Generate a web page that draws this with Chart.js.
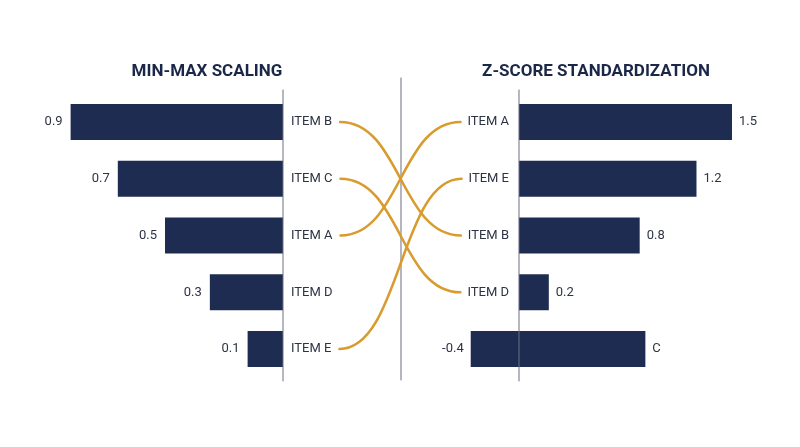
<!DOCTYPE html>
<html>
<head>
<meta charset="utf-8">
<script src="https://cdn.jsdelivr.net/npm/chart.js@4.4.1/dist/chart.umd.min.js"></script>
<style>
  html, body { margin: 0; padding: 0; background: #fff; }
  #wrap { position: relative; width: 800px; height: 447px; }
</style>
</head>
<body>
<div id="wrap"><canvas id="rankChart" width="800" height="447"></canvas></div>
<script>
// --- data ---
const leftTitle = 'MIN-MAX SCALING';
const rightTitle = 'Z-SCORE STANDARDIZATION';

const leftItems = ['ITEM B', 'ITEM C', 'ITEM A', 'ITEM D', 'ITEM E'];
const minmaxValues = [0.9, 0.7, 0.5, 0.31, 0.15];
const minmaxLabels = ['0.9', '0.7', '0.5', '0.3', '0.1'];

const rightItems = ['ITEM A', 'ITEM E', 'ITEM B', 'ITEM D', ''];
const zscoreBars = [[0, 1.5], [0, 1.25], [0, 0.85], [0, 0.21], [-0.34, 0.89]];
const zscoreLabels = ['1.5', '1.2', '0.8', '0.2', '-0.4'];
const zscoreEndLabels = ['', '', '', '', 'C'];

// connections: [left row, right row]
const links = [[0, 2], [1, 3], [2, 0], [4, 1]];

const navy = '#1e2c52';
const gold = '#d99b2e';
const axisGray = '#6b7080';
const textColor = '#2e3444';

const overlay = {
    id: 'overlay',
    afterDatasetsDraw(chart) {
        const ctx = chart.ctx;
        const xl = chart.scales.xl;
        const xr = chart.scales.xr;
        const y = chart.scales.y;
        const area = chart.chartArea;
        const leftAxis = xl.getPixelForValue(0);
        const rightAxis = xr.getPixelForValue(0);
        const midAxis = (leftAxis + rightAxis) / 2;

        ctx.save();
        // axis lines
        ctx.strokeStyle = axisGray;
        ctx.lineWidth = 1;
        ctx.beginPath();
        ctx.moveTo(leftAxis, area.top - 4);
        ctx.lineTo(leftAxis, area.bottom + 4);
        ctx.moveTo(rightAxis, area.top - 4);
        ctx.lineTo(rightAxis, area.bottom + 4);
        ctx.moveTo(midAxis, area.top - 16);
        ctx.lineTo(midAxis, area.bottom + 3);
        ctx.stroke();

        // titles
        ctx.fillStyle = '#1b2748';
        ctx.font = 'bold 17px Roboto, "Noto Sans", sans-serif';
        ctx.textBaseline = 'middle';
        ctx.textAlign = 'center';
        ctx.fillText(leftTitle, 207, 72);
        ctx.fillText(rightTitle, 596, 72);

        ctx.font = '13px Roboto, "Noto Sans", sans-serif';
        ctx.fillStyle = textColor;

        const leftEnds = [];
        const rightStarts = [];
        leftItems.forEach((name, i) => {
            const py = y.getPixelForValue(i);
            // item label
            ctx.textAlign = 'left';
            ctx.fillText(name, leftAxis + 8, py);
            leftEnds.push(leftAxis + 8 + ctx.measureText(name).width + 8);
            // value label
            ctx.textAlign = 'right';
            ctx.fillText(minmaxLabels[i], xl.getPixelForValue(minmaxValues[i]) - 8, py);
        });

        rightItems.forEach((name, i) => {
            const py = y.getPixelForValue(i);
            ctx.textAlign = 'right';
            if (name) ctx.fillText(name, rightAxis - 10, py);
            rightStarts.push(rightAxis - 10 - ctx.measureText(name).width - 7);
            const [a, b] = zscoreBars[i];
            if (a < 0) {
                ctx.textAlign = 'right';
                ctx.fillText(zscoreLabels[i], xr.getPixelForValue(a) - 7, py);
                ctx.textAlign = 'left';
                ctx.fillText(zscoreEndLabels[i], xr.getPixelForValue(b) + 7, py);
            } else {
                ctx.textAlign = 'left';
                ctx.fillText(zscoreLabels[i], xr.getPixelForValue(b) + 7, py);
            }
        });

        // connecting curves
        ctx.strokeStyle = gold;
        ctx.lineWidth = 2.6;
        ctx.lineCap = 'round';
        links.forEach(([from, to]) => {
            const x0 = leftEnds[from];
            const x1 = rightStarts[to];
            const y0 = y.getPixelForValue(from);
            const y1 = y.getPixelForValue(to);
            const cx = (x0 + x1) / 2;
            ctx.beginPath();
            ctx.moveTo(x0, y0);
            ctx.bezierCurveTo(cx, y0, cx, y1, x1, y1);
            ctx.stroke();
        });
        ctx.restore();
    }
};

new Chart(document.getElementById('rankChart'), {
    type: 'bar',
    data: {
        labels: leftItems,
        datasets: [{
            label: leftTitle,
            data: minmaxValues,
            xAxisID: 'xl',
            backgroundColor: navy,
            barPercentage: 0.635,
            categoryPercentage: 1,
            grouped: false
        }, {
            label: rightTitle,
            data: zscoreBars,
            xAxisID: 'xr',
            backgroundColor: navy,
            barPercentage: 0.635,
            categoryPercentage: 1,
            grouped: false
        }]
    },
    options: {
        indexAxis: 'y',
        responsive: false,
        animation: false,
        layout: {
            padding: { top: 93.6, bottom: 69.6, left: 0, right: 0 }
        },
        plugins: {
            legend: { display: false },
            tooltip: { enabled: false }
        },
        scales: {
            y: { display: false },
            xl: {
                type: 'linear',
                reverse: true,
                min: -2.1907,
                max: 1.1992,
                display: false
            },
            xr: {
                type: 'linear',
                min: -3.655,
                max: 1.979,
                display: false
            }
        }
    },
    plugins: [overlay]
});
</script>
</body>
</html>
